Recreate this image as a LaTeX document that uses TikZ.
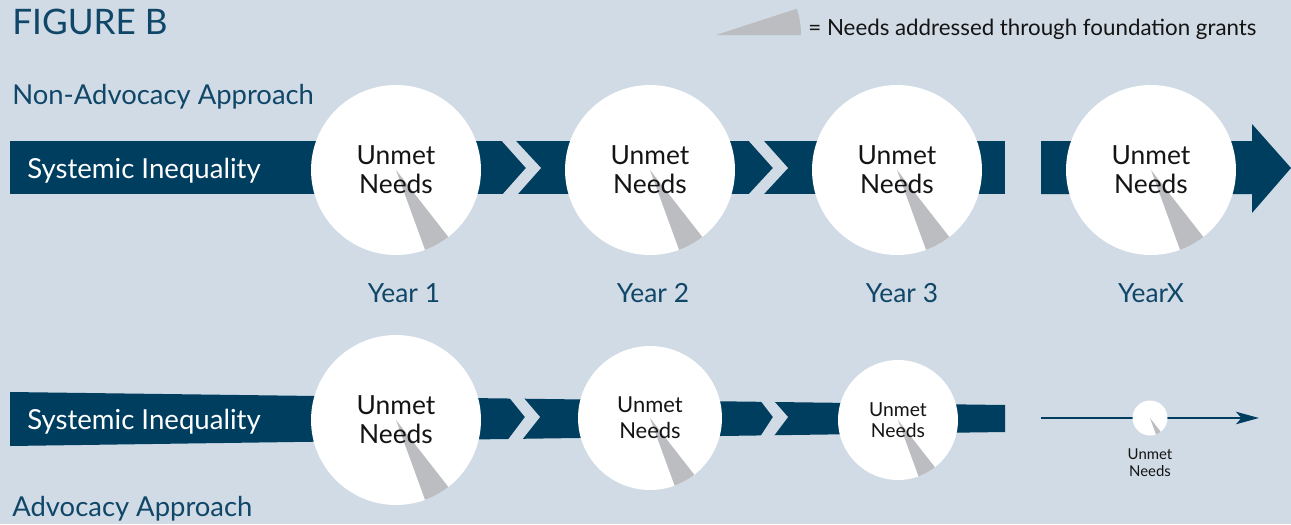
\documentclass[tikz,border=0pt]{standalone}
\usepackage{fontspec}
\setmainfont{Lato}
\usetikzlibrary{arrows.meta}
\definecolor{PaleSlate}{RGB}{208, 219, 229}
\definecolor{BandNavy}{RGB}{0, 62, 96}
\definecolor{TitleNavy}{RGB}{16, 70, 104}
\definecolor{GrantGray}{RGB}{188, 189, 193}
\definecolor{InkBlack}{RGB}{20, 20, 20}

\begin{document}
\begin{tikzpicture}[x=0.02cm, y=-0.02cm,
    needs/.style={circle, fill=white, inner sep=0pt, minimum size=#1, align=center, text=InkBlack,
        path picture={\fill[GrantGray] (path picture bounding box.center) -- +(-70:4cm) -- +(-52:4cm) -- cycle;}},
    bigtext/.style={font=\fontsize{15}{16.4}\selectfont},
    heading/.style={anchor=base west, inner sep=0pt, text=TitleNavy, font=\fontsize{20}{23}\selectfont},
    approach/.style={anchor=base west, inner sep=0pt, text=TitleNavy, font=\fontsize{15.6}{19}\selectfont},
    bandlabel/.style={anchor=base west, inner sep=0pt, text=white, font=\fontsize{15.7}{19}\selectfont},
    yearlabel/.style={anchor=base, inner sep=0pt, text=TitleNavy, font=\fontsize{15}{18}\selectfont}]
    \fill[PaleSlate] (0,0) rectangle (1291,524);
    \useasboundingbox (0,0) rectangle (1291,524);

    \fill[BandNavy] (10,141) -- (1005,141) -- (1005,194) -- (10,194) -- cycle;
    \fill[BandNavy] (1041,141) -- (1252,141) -- (1252,124) -- (1291,168) -- (1252,213) -- (1252,194) -- (1041,194) -- cycle;
    \fill[PaleSlate] (501,140) -- (526,168) -- (502,195) -- (517,195) -- (541,168) -- (515,140) -- cycle;
    \fill[PaleSlate] (748,140) -- (773,168) -- (748,195) -- (763,195) -- (788,168) -- (763,140) -- cycle;

    \fill[BandNavy] (10,392) -- (1005,405) -- (1005,432) -- (10,446) -- cycle;
    \fill[PaleSlate] (508,396) -- (525,417) -- (507,441) -- (521,441) -- (540,417) -- (522,396) -- cycle;
    \fill[PaleSlate] (760,400) -- (773,417) -- (760,437) -- (773,437) -- (788,417) -- (773,400) -- cycle;

    \coordinate (lineS) at (1041,418);
    \coordinate (lineE) at (1259,418);
    \draw[BandNavy, line width=1.5pt, -{Stealth[length=13pt, width=7pt, inset=3pt]}] (lineS) -- (lineE);

    \node[needs=3.4cm, bigtext] (top1) at (396,170) {Unmet\\Needs};
    \node[needs=3.4cm, bigtext] (top2) at (650,170) {Unmet\\Needs};
    \node[needs=3.4cm, bigtext] (top3) at (897,170) {Unmet\\Needs};
    \node[needs=3.4cm, bigtext] (topX) at (1151,170) {Unmet\\Needs};

    \node[needs=3.4cm, bigtext] (adv1) at (396,420) {Unmet\\Needs};
    \node[needs=2.88cm, font=\fontsize{12.5}{14.7}\selectfont] (adv2) at (650,418) {Unmet\\Needs};
    \node[needs=2.4cm, font=\fontsize{11}{11.9}\selectfont] (adv3) at (898,420) {Unmet\\Needs};
    \node[needs=0.7cm] (advX) at (1150,418) {};
    \node[anchor=north, inner sep=0pt, align=center, text=InkBlack, font=\fontsize{8.5}{10.2}\selectfont] (advXlabel) at (1150,448) {Unmet\\Needs};

    \node[heading] (title) at (12,34) {FIGURE B};
    \node[approach] (nonadv) at (12,104) {Non-Advocacy Approach};
    \node[bandlabel] (ineqTop) at (27,178) {Systemic Inequality};
    \node[bandlabel] (ineqBot) at (27,429) {Systemic Inequality};
    \node[approach] (adv) at (12,516) {Advocacy Approach};

    \node[yearlabel] (year1) at (404,302) {Year 1};
    \node[yearlabel] (year2) at (653,302) {Year 2};
    \node[yearlabel] (year3) at (902,302) {Year 3};
    \node[yearlabel] (yearX) at (1151,302) {YearX};

    \coordinate (lgd) at (716,35);
    \fill[GrantGray] (lgd) -- ++(0:85) arc[start angle=0, end angle=-18, radius=85] -- cycle;
    \node[anchor=base west, inner sep=0pt, text=InkBlack, font=\fontsize{12.7}{15}\selectfont] (lgdtext) at (808,35) {= Needs addressed through foundation grants};
\end{tikzpicture}
\end{document}
